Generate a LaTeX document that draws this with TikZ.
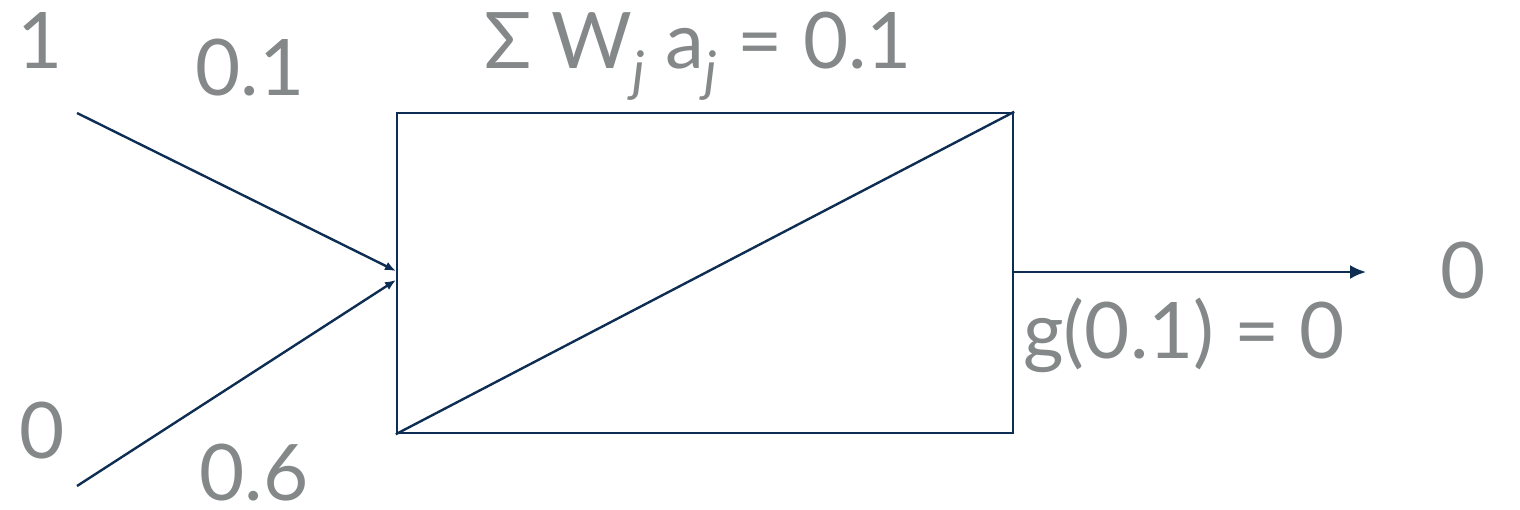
\documentclass[tikz,border=0pt]{standalone}
\usepackage{fontspec}
\setmainfont{Lato}
\usetikzlibrary{arrows.meta}
\definecolor{navy}{HTML}{0E2D52}
\definecolor{txtgray}{HTML}{858889}
\tikzset{
  lbl/.style={text=txtgray, font=\fontsize{39}{44}\selectfont, inner sep=0pt, anchor=base},
  conn/.style={draw=navy, line width=1.2pt},
  inarrow/.style={conn, -{Latex[length=5.5pt,width=4.5pt]}},
  outarrow/.style={conn, -{Latex[length=8pt,width=7pt]}}
}
\begin{document}
\begin{tikzpicture}[x=0.5pt,y=-0.5pt]
\useasboundingbox (0,0) rectangle (1520,509);
\node[conn, minimum width=308pt, minimum height=160pt, inner sep=0pt] (box) at (705,273) {};
\draw[conn] (box.south west) -- (box.north east);
\coordinate (in1) at (77,113);
\coordinate (in2) at (77,486);
\coordinate (tip1) at (396,271);
\coordinate (tip2) at (396,280);
\coordinate (outend) at (1366,272);
\draw[inarrow] (in1) -- (tip1);
\draw[inarrow] (in2) -- (tip2);
\draw[outarrow] (box.east |- outend) -- (outend);
\node[lbl] (x1) at (40,68) {1};
\node[lbl] (w1) at (250,95) {0.1};
\node[lbl] (x2) at (42,458) {0};
\node[lbl] (w2) at (254,500) {0.6};
\node[lbl] (sum) at (698,68) {Σ W\textsubscript{\itshape j} a\textsubscript{\itshape j} = 0.1};
\node[lbl] (out) at (1463,298) {0};
\node[lbl, anchor=base west] (g) at (1023,358) {g(0.1) = 0};
\end{tikzpicture}
\end{document}
